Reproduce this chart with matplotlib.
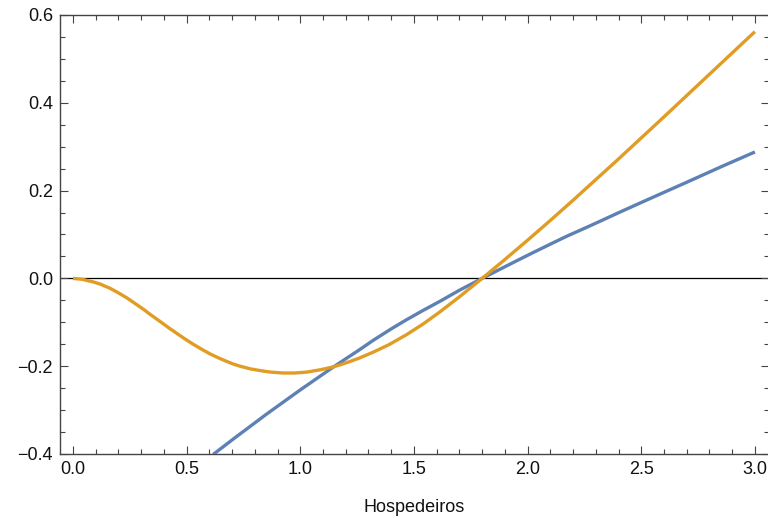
import numpy as np
import matplotlib
matplotlib.use("Agg")
import matplotlib.pyplot as plt
from matplotlib.ticker import MultipleLocator, FuncFormatter

plt.rcParams['font.family'] = ['Liberation Sans', 'DejaVu Sans']

# blue curve
blue_x = [0.617, 0.705, 0.852, 1.000, 1.145, 1.262, 1.321, 1.400, 1.468, 1.540, 1.615, 1.700,
          1.800, 1.879, 1.967, 2.025, 2.100, 2.172, 2.250, 2.318, 2.406, 2.509, 2.600,
          2.700, 2.850, 3.000]
blue_y = [-0.401, -0.366, -0.309, -0.254, -0.202, -0.162, -0.141, -0.115, -0.094, -0.073, -0.052, -0.027,
          0.000, 0.021, 0.044, 0.059, 0.078, 0.096, 0.114, 0.130, 0.151, 0.175, 0.196,
          0.219, 0.254, 0.288]

# orange curve
orange_x = [0.000, 0.040, 0.089, 0.120, 0.163, 0.200, 0.236, 0.270, 0.309, 0.345,
            0.383, 0.420, 0.456, 0.490, 0.529, 0.565, 0.603, 0.640, 0.676, 0.705,
            0.735, 0.780, 0.823, 0.870, 0.925, 0.975, 1.028, 1.090, 1.145, 1.175,
            1.220, 1.262, 1.321, 1.390, 1.468, 1.540, 1.615, 1.700, 1.800, 1.900,
            2.000, 2.100, 2.200, 2.300, 2.400, 2.500, 2.600, 2.700, 2.800, 2.900, 3.000]
orange_y = [0.000, -0.002, -0.008, -0.013, -0.0225, -0.033, -0.044, -0.056, -0.070, -0.084,
            -0.098, -0.112, -0.125, -0.137, -0.150, -0.161, -0.172, -0.181, -0.189, -0.195,
            -0.200, -0.206, -0.210, -0.2135, -0.2155, -0.2155, -0.2135, -0.208, -0.2015, -0.197,
            -0.189, -0.181, -0.168, -0.151, -0.128, -0.104, -0.076, -0.042, 0.000, 0.043,
            0.087, 0.132, 0.178, 0.225, 0.272, 0.320, 0.368, 0.4165, 0.465, 0.5135, 0.562]

xlabel = "Hospedeiros"


def fmt(v, pos):
    return f"{v:.1f}".replace("-", "\u2212")


fig = plt.figure(figsize=(7.68, 5.18), dpi=100)
ax = fig.add_axes([60 / 768, 1 - 454 / 518, 709 / 768, 439 / 518])

ax.axhline(0, color="black", lw=0.9, zorder=1)
ax.plot(blue_x, blue_y, color="#5E81B5", lw=2.4, solid_capstyle="butt", zorder=3)
ax.plot(orange_x, orange_y, color="#E19C24", lw=2.4, solid_capstyle="butt", zorder=4)

ax.set_xlim(-0.057, 3.062)
ax.set_ylim(-0.4, 0.6)

ax.xaxis.set_major_locator(MultipleLocator(0.5))
ax.xaxis.set_minor_locator(MultipleLocator(0.1))
ax.yaxis.set_major_locator(MultipleLocator(0.2))
ax.yaxis.set_minor_locator(MultipleLocator(0.05))
ax.xaxis.set_major_formatter(FuncFormatter(fmt))
ax.yaxis.set_major_formatter(FuncFormatter(fmt))

frame_col = "#444444"
for s in ax.spines.values():
    s.set_color(frame_col)
    s.set_linewidth(1.0)

ax.tick_params(which="both", direction="in", top=True, right=True, color=frame_col,
               width=0.8, labelsize=13, labelcolor="#111111")
ax.tick_params(which="major", length=6, pad=5)
ax.tick_params(which="minor", length=3.6)

ax.set_xlabel(xlabel, fontsize=13, color="#111111", labelpad=15)

fig.savefig("out.png", dpi=100)
